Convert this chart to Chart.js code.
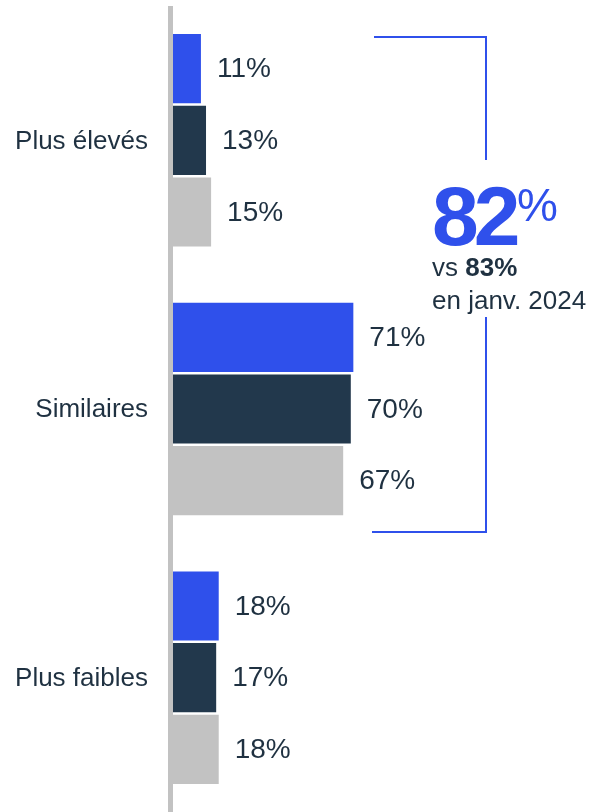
<!DOCTYPE html>
<html>
<head>
<meta charset="utf-8">
<script src="https://cdn.jsdelivr.net/npm/chart.js@4.4.1/dist/chart.umd.min.js"></script>
<style>
  html, body { margin: 0; padding: 0; background: #fff; }
  #wrap { width: 592px; height: 812px; position: relative; }
</style>
</head>
<body>
<div id="wrap"><canvas id="chart" width="592" height="812"></canvas></div>
<script>
// categories and series (share of answers, %)
var categories = ['Plus élevés', 'Similaires', 'Plus faibles'];
var seriesLabels = ['Actuel', 'Janv. 2024', 'Précédent'];
var actuel = [11, 71, 18];
var janv2024 = [13, 70, 17];
var precedent = [15, 67, 18];
var colors = ['#2f50eb', '#22384c', '#c2c2c2'];

// callout text
var bigValue = '82';
var compareValue = '83%';
var compareText = 'en janv. 2024';

var FONT = '"Liberation Sans", Arial, sans-serif';
var TEXT = '#1f3141';

// vertical grey axis line + category names on the left
var axisLine = {
    id: 'axisLine',
    beforeDatasetsDraw: function (chart) {
        var ctx = chart.ctx, a = chart.chartArea, y = chart.scales.y;
        ctx.save();
        ctx.fillStyle = '#c2c2c2';
        ctx.fillRect(a.left - 5, a.top, 5, chart.height - a.top);
        ctx.fillStyle = TEXT;
        ctx.font = '26px ' + FONT;
        ctx.textAlign = 'right';
        ctx.textBaseline = 'middle';
        categories.forEach(function (c, i) {
            ctx.fillText(c, a.left - 25, y.getPixelForValue(i) + 1);
        });
        ctx.restore();
    }
};

// value labels at the end of each bar
var valueLabels = {
    id: 'valueLabels',
    afterDatasetsDraw: function (chart) {
        var ctx = chart.ctx;
        ctx.save();
        ctx.font = '28px ' + FONT;
        ctx.fillStyle = TEXT;
        ctx.textAlign = 'left';
        ctx.textBaseline = 'middle';
        chart.data.datasets.forEach(function (ds, i) {
            chart.getDatasetMeta(i).data.forEach(function (bar, j) {
                ctx.fillText(ds.data[j] + '%', bar.x + 16, bar.y + 1);
            });
        });
        ctx.restore();
    }
};

// bracket + "82% vs 83%" callout
var callout = {
    id: 'callout',
    afterDraw: function (chart) {
        var ctx = chart.ctx;
        ctx.save();
        ctx.strokeStyle = '#2f50eb';
        ctx.lineWidth = 2;
        ctx.beginPath();
        ctx.moveTo(374, 37); ctx.lineTo(486, 37); ctx.lineTo(486, 160);
        ctx.moveTo(486, 317); ctx.lineTo(486, 532); ctx.lineTo(372, 532);
        ctx.stroke();

        ctx.fillStyle = '#2f50eb';
        ctx.textBaseline = 'alphabetic';
        ctx.textAlign = 'left';
        ctx.font = 'bold 84px ' + FONT;
        ctx.letterSpacing = '-5px';
        ctx.fillText(bigValue, 432, 245);
        ctx.letterSpacing = '0px';
        ctx.font = '46px ' + FONT;
        ctx.fillText('%', 517, 221);

        ctx.fillStyle = TEXT;
        ctx.font = '26px ' + FONT;
        ctx.fillText('vs ', 432, 276);
        var w = ctx.measureText('vs ').width;
        ctx.font = 'bold 26px ' + FONT;
        ctx.fillText(compareValue, 432 + w, 276);
        ctx.font = '26px ' + FONT;
        ctx.fillText(compareText, 432, 309);
        ctx.restore();
    }
};

var ctx = document.getElementById('chart').getContext('2d');
var chart = new Chart(ctx, {
    type: 'bar',
    data: {
        labels: categories,
        datasets: [
            { label: seriesLabels[0], data: actuel, backgroundColor: colors[0] },
            { label: seriesLabels[1], data: janv2024, backgroundColor: colors[1] },
            { label: seriesLabels[2], data: precedent, backgroundColor: colors[2] }
        ]
    },
    options: {
        indexAxis: 'y',
        responsive: false,
        animation: false,
        devicePixelRatio: 1,
        layout: { padding: { top: 6, right: 165, bottom: 0, left: 173 } },
        datasets: { bar: { categoryPercentage: 0.8, barPercentage: 0.965, borderWidth: 0 } },
        plugins: { legend: { display: false }, tooltip: { enabled: false } },
        scales: {
            x: { min: 0, max: 100, display: false },
            y: { display: false }
        }
    },
    plugins: [axisLine, valueLabels, callout]
});
</script>
</body>
</html>
